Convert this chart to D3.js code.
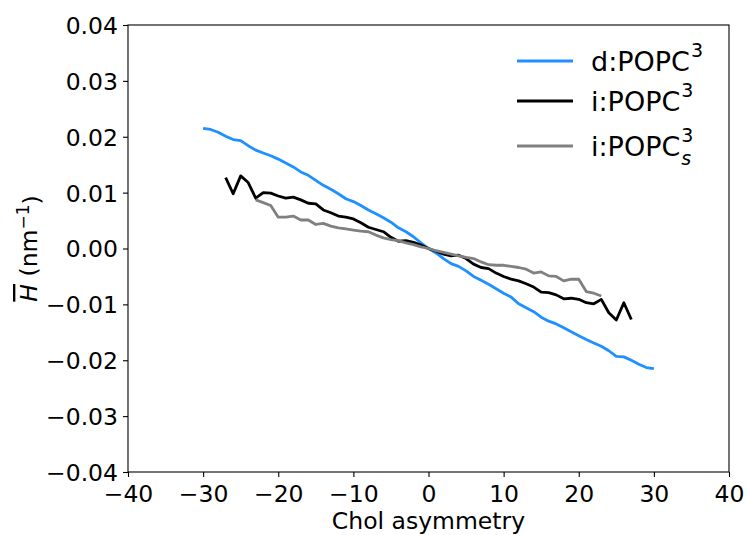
<!DOCTYPE html>
<html>
<head>
<meta charset="utf-8">
<script src="https://cdn.jsdelivr.net/npm/d3@7"></script>
<style>
  html, body { margin: 0; padding: 0; background: #fff; }
  svg text { font-family: "DejaVu Sans", sans-serif; fill: #000; }
</style>
</head>
<body>
<svg id="chart" width="748" height="535"></svg>
<script>
// Chol asymmetry values for each series
const xBlue = d3.range(-30, 31);
const hBlue = [
  0.0215, 0.0213, 0.0208, 0.0201, 0.0195, 0.0193, 0.0184, 0.0176, 0.0171, 0.0166,
  0.0160, 0.0153, 0.0146, 0.0137, 0.0131, 0.0122, 0.0113, 0.0106, 0.0098, 0.0089,
  0.0084, 0.0077, 0.0069, 0.0062, 0.0055, 0.0047, 0.0037, 0.0030, 0.0021, 0.0010,
  0.0000,
  -0.0008, -0.0018, -0.0027, -0.0032, -0.0040, -0.0050, -0.0057, -0.0064, -0.0072, -0.0080,
  -0.0087, -0.0099, -0.0106, -0.0113, -0.0123, -0.0130, -0.0135, -0.0142, -0.0149, -0.0156,
  -0.0163, -0.0169, -0.0175, -0.0183, -0.0193, -0.0194, -0.0200, -0.0207, -0.0213, -0.0215
];

const xBlack = d3.range(-27, 28);
const hBlack = [
  0.0127, 0.0098, 0.0130, 0.0118, 0.0090, 0.0100, 0.0099, 0.0094, 0.0090, 0.0092,
  0.0087, 0.0081, 0.0080, 0.0069, 0.0064, 0.0058, 0.0056, 0.0053, 0.0046, 0.0038,
  0.0034, 0.0030, 0.0020, 0.0013, 0.0014, 0.0011, 0.0006,
  0.0000,
  -0.0005, -0.0010, -0.0013, -0.0012, -0.0018, -0.0028, -0.0034, -0.0036, -0.0044, -0.0050,
  -0.0055, -0.0058, -0.0063, -0.0069, -0.0078, -0.0079, -0.0083, -0.0090, -0.0089, -0.0091,
  -0.0097, -0.0099, -0.0091, -0.0115, -0.0128, -0.0097, -0.0127
];

const xGray = d3.range(-23, 24);
const hGray = [
  0.0087, 0.0082, 0.0077, 0.0056, 0.0056, 0.0058, 0.0051, 0.0051, 0.0043, 0.0045,
  0.0040, 0.0037, 0.0035, 0.0033, 0.0031, 0.0030, 0.0024, 0.0019, 0.0016, 0.0014,
  0.0010, 0.0007, 0.0003,
  0.0000,
  -0.0004, -0.0007, -0.0010, -0.0013, -0.0016, -0.0018, -0.0024, -0.0029, -0.0030, -0.0030,
  -0.0032, -0.0034, -0.0037, -0.0044, -0.0042, -0.0049, -0.0050, -0.0058, -0.0055, -0.0055,
  -0.0077, -0.0080, -0.0085
];

const xTicks = [-40, -30, -20, -10, 0, 10, 20, 30, 40];
const yTicks = [-0.04, -0.03, -0.02, -0.01, 0.00, 0.01, 0.02, 0.03, 0.04];

const seriesNames = ["d:POPC", "i:POPC", "i:POPC"];
const seriesSup = ["3", "3", "3"];
const seriesSub = ["", "", "s"];
const seriesColors = ["#1e90ff", "#000000", "#808080"];

const series = [
  { x: xBlue, y: hBlue },
  { x: xBlack, y: hBlack },
  { x: xGray, y: hGray }
];

const svg = d3.select("#chart");
const margin = { left: 128, right: 19, top: 25, bottom: 63 };
const W = 748, H = 535;

const x = d3.scaleLinear().domain([-40, 40]).range([margin.left, W - margin.right]);
const y = d3.scaleLinear().domain([-0.04, 0.04]).range([H - margin.bottom, margin.top]);

const minus = s => s.replace("-", "\u2212");

// Data lines
const line = d3.line().x(d => x(d[0])).y(d => y(d[1]));
series.forEach((s, i) => {
  svg.append("path")
    .datum(s.x.map((v, k) => [v, s.y[k]]))
    .attr("d", line)
    .attr("fill", "none")
    .attr("stroke", seriesColors[i])
    .attr("stroke-width", 2.8)
    .attr("stroke-linejoin", "round")
    .attr("stroke-linecap", "butt");
});

// Axes
const xAxis = d3.axisBottom(x).tickValues(xTicks).tickSize(5).tickPadding(4)
  .tickFormat(d => minus(d3.format("d")(d)));
const yAxis = d3.axisLeft(y).tickValues(yTicks).tickSize(5).tickPadding(5)
  .tickFormat(d => minus(d3.format(".2f")(d)));

const gx = svg.append("g").attr("transform", `translate(0,${H - margin.bottom})`).call(xAxis);
const gy = svg.append("g").attr("transform", `translate(${margin.left},0)`).call(yAxis);
[gx, gy].forEach(g => {
  g.select(".domain").remove();
  g.selectAll(".tick line").attr("stroke", "#000").attr("stroke-width", 1.1);
  g.selectAll(".tick text").style("font-size", "23.5px").attr("fill", "#000")
    .style("font-family", "DejaVu Sans, sans-serif");
});
gx.selectAll(".tick text").attr("dy", "0.9em");
gy.selectAll(".tick text").attr("dy", "0.36em");

// Frame
svg.append("rect")
  .attr("x", x(-40)).attr("y", y(0.04))
  .attr("width", x(40) - x(-40)).attr("height", y(-0.04) - y(0.04))
  .attr("fill", "none").attr("stroke", "#000").attr("stroke-width", 1.1);

// Axis titles
svg.append("text")
  .attr("x", (x(-40) + x(40)) / 2).attr("y", 529)
  .attr("text-anchor", "middle").style("font-size", "23.5px")
  .text("Chol asymmetry");

const yl = svg.append("text")
  .attr("transform", `translate(37,${(y(0.04) + y(-0.04)) / 2}) rotate(-90)`)
  .attr("text-anchor", "middle").style("font-size", "23.5px");
yl.append("tspan").style("font-style", "italic").style("text-decoration", "overline").text("H");
yl.append("tspan").text(" (nm");
yl.append("tspan").attr("dy", "-0.45em").style("font-size", "17px").text("\u22121");
yl.append("tspan").attr("dy", "0.45em").text(")");

// Legend
const legend = svg.append("g");
const rowY = [61, 101, 146];
seriesNames.forEach((name, i) => {
  const r = legend.append("g").attr("transform", `translate(0,${rowY[i]})`);
  r.append("line").attr("x1", 517).attr("x2", 573).attr("y1", 0).attr("y2", 0)
    .attr("stroke", seriesColors[i]).attr("stroke-width", 2.8);
  const t = r.append("text").attr("x", 591).attr("y", 10).style("font-size", "27px").text(name);
  const w = t.node().getComputedTextLength();
  r.append("text").attr("x", 591 + w + 1).attr("y", -4).style("font-size", "19px").text(seriesSup[i]);
  if (seriesSub[i]) {
    r.append("text").attr("x", 591 + w + 1).attr("y", 19).style("font-size", "19px")
      .style("font-style", "italic").text(seriesSub[i]);
  }
});
</script>
</body>
</html>
